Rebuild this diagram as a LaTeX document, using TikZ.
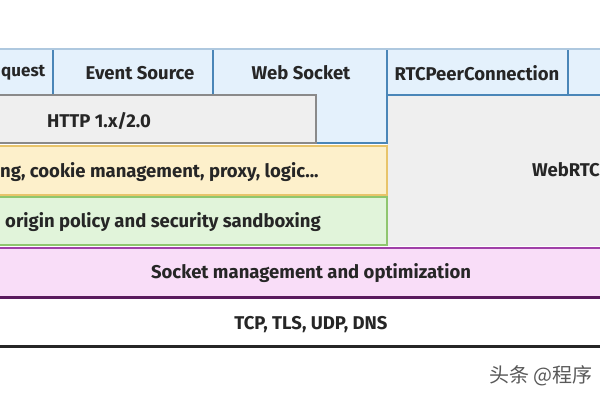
\documentclass[tikz,border=0pt]{standalone}
\usepackage{fontspec}
\setmainfont{Fira Sans}
\newfontfamily\cjkfont{Noto Sans CJK SC}
\definecolor{apifill}{HTML}{E4F1FC}
\definecolor{apiline}{HTML}{4A86B8}
\definecolor{httpfill}{HTML}{EFEFEF}
\definecolor{httpline}{HTML}{8A8A8A}
\definecolor{connfill}{HTML}{FDF0CB}
\definecolor{connline}{HTML}{E8C46A}
\definecolor{sopfill}{HTML}{E1F4DA}
\definecolor{sopline}{HTML}{8FC66E}
\definecolor{sockfill}{HTML}{F9DDF8}
\definecolor{sockline}{HTML}{A040A8}
\definecolor{sockdark}{HTML}{5A1A5E}

\begin{document}
\begin{tikzpicture}[x=1pt, y=-1pt,
    lbl/.style={font=\fontsize{18.5}{22}\selectfont\bfseries, text=black!85, inner sep=0pt},
    apibox/.style={fill=apifill, draw=apiline, line width=1.5pt},
    httpbox/.style={fill=httpfill, draw=httpline, line width=1.5pt},
    connbox/.style={fill=connfill, draw=connline, line width=1.5pt},
    sopbox/.style={fill=sopfill, draw=sopline, line width=1.5pt}]

    \useasboundingbox (0,0) rectangle (600,400);
    \fill[white] (0,0) rectangle (600,400);

    % WebRTC area:
    \fill[httpfill] (387,95) rectangle (610,246);
    \draw[httpline, line width=1.5pt] (387,95) -- (610,95);

    % API row:
    \path[apibox] (213,49) rectangle (387,143);
    \foreach \a/\b in {-10/53, 53/213, 387/568, 568/620} {
        \path[apibox] (\a,49) rectangle (\b,95);
    }
    \draw[apiline!45, line width=1.5pt] (-5,49) -- (605,49);

    \node[lbl, anchor=west, font=\fontsize{17}{20}\selectfont\bfseries] (xhr) at (1,73) {quest};
    \node[lbl] (sse) at (140,73) {Event Source};
    \node[lbl] (ws) at (301,73) {Web Socket};
    \node[lbl] (rtcpc) at (477,73) {RTCPeerConnection};

    % HTTP:
    \path[httpbox] (-10,95) rectangle (316,143);
    \node[lbl] (http) at (99,121) {HTTP 1.x/2.0};
    \node[lbl, anchor=east] (webrtc) at (600,170) {WebRTC};

    % Connection and security layers:
    \path[connbox] (-10,146) rectangle (387,195);
    \node[lbl, anchor=west] (conn) at (0,172) {ng, cookie management, proxy, logic...};
    \path[sopbox] (-10,197) rectangle (387,245);
    \node[lbl, anchor=west] (sop) at (5,222) {origin policy and security sandboxing};

    % Socket layer:
    \fill[sockfill] (-5,248) rectangle (605,298);
    \draw[sockline, line width=2pt] (-5,248) -- (605,248);
    \draw[sockdark, line width=3pt] (-5,297) -- (605,297);
    \node[lbl] (sock) at (311,273) {Socket management and optimization};

    % Network layer:
    \draw[black!85, line width=3pt] (-5,346) -- (605,346);
    \node[lbl] (net) at (311,325) {TCP, TLS, UDP, DNS};

    \node[anchor=west, inner sep=0pt, text=black!65, font=\cjkfont\fontsize{20}{24}\selectfont] (mark) at (489,376) {头条 @程序};
\end{tikzpicture}
\end{document}
